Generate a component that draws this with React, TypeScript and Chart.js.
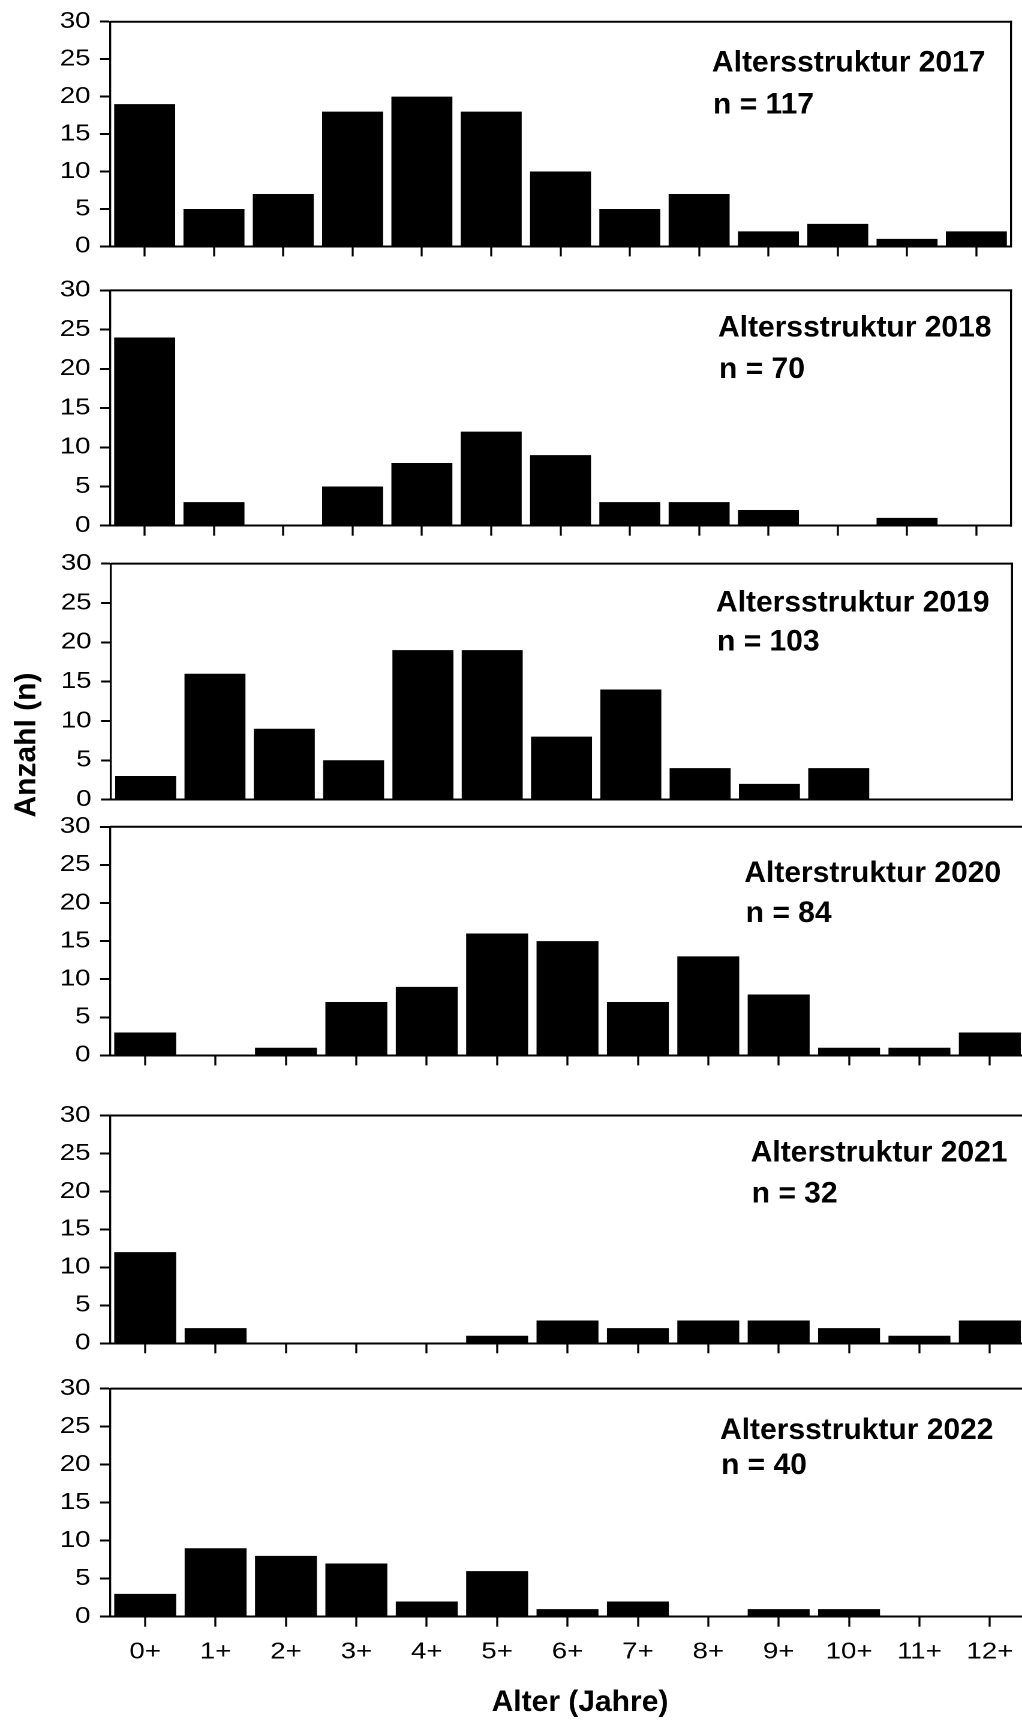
import React, { useEffect, useRef } from 'react';
import { Chart, registerables } from 'chart.js';

Chart.register(...registerables);

// ---------- data ----------
const ageLabels = ['0+', '1+', '2+', '3+', '4+', '5+', '6+', '7+', '8+', '9+', '10+', '11+', '12+'];
const counts2017 = [19, 5, 7, 18, 20, 18, 10, 5, 7, 2, 3, 1, 2];
const counts2018 = [24, 3, 0, 5, 8, 12, 9, 3, 3, 2, 0, 1, 0];
const counts2019 = [3, 16, 9, 5, 19, 19, 8, 14, 4, 2, 4, 0, 0];
const counts2020 = [3, 0, 1, 7, 9, 16, 15, 7, 13, 8, 1, 1, 3];
const counts2021 = [12, 2, 0, 0, 0, 1, 3, 2, 3, 3, 2, 1, 3];
const counts2022 = [3, 9, 8, 7, 2, 6, 1, 2, 0, 1, 1, 0, 0];
const panelTitles = [
  'Altersstruktur 2017',
  'Altersstruktur 2018',
  'Altersstruktur 2019',
  'Alterstruktur 2020',
  'Alterstruktur 2021',
  'Altersstruktur 2022',
];
const panelN = ['n = 117', 'n = 70', 'n = 103', 'n = 84', 'n = 32', 'n = 40'];
const yTicks = [0, 5, 10, 15, 20, 25, 30];
const yAxisTitle = 'Anzahl (n)';
const xAxisTitle = 'Alter (Jahre)';

// ---------- layout (display pixels) ----------
const FAMILY = "'Liberation Sans', Arial, Helvetica, sans-serif";
const DW = 1040; // canvas display width (clipped at 1022)
const SX_TARGET = 1.2; // horizontal stretch of tick lettering
const RW = Math.round(DW / SX_TARGET);
const SX = DW / RW;

type Panel = {
  data: number[];
  title: string;
  n: string;
  cy: number;
  h: number;
  L: number;
  T: number;
  R: number;
  B: number;
  tx: number;
  ty: number;
  nx: number;
  ny: number;
  xTicks: boolean;
  xLabels: boolean;
  yTitle?: { x: number; y: number };
  xTitle?: { x: number; y: number };
};

const panels: Panel[] = [
  { data: counts2017, title: panelTitles[0], n: panelN[0], cy: 0, h: 275, L: 110, T: 20.7, R: 1011, B: 246.4, tx: 712, ty: 71.4, nx: 713, ny: 113.6, xTicks: true, xLabels: false },
  { data: counts2018, title: panelTitles[1], n: panelN[1], cy: 260, h: 295, L: 110, T: 290.4, R: 1011, B: 525.7, tx: 718, ty: 336.4, nx: 719, ny: 377.9, xTicks: true, xLabels: false },
  { data: counts2019, title: panelTitles[2], n: panelN[2], cy: 535, h: 295, L: 111, T: 563.6, R: 1012, B: 799.6, tx: 716, ty: 611.4, nx: 717, ny: 650.7, xTicks: false, xLabels: false, yTitle: { x: 35.3, y: 745 } },
  { data: counts2020, title: panelTitles[3], n: panelN[3], cy: 795, h: 290, L: 110, T: 826.8, R: 1025, B: 1055.4, tx: 744.3, ty: 882.1, nx: 745.7, ny: 922.1, xTicks: true, xLabels: false },
  { data: counts2021, title: panelTitles[4], n: panelN[4], cy: 1085, h: 290, L: 110, T: 1115.5, R: 1025, B: 1343.3, tx: 750.7, ty: 1161.6, nx: 751.7, ny: 1202.4, xTicks: true, xLabels: false },
  { data: counts2022, title: panelTitles[5], n: panelN[5], cy: 1360, h: 360, L: 110, T: 1388.6, R: 1025, B: 1616.7, tx: 720, ty: 1439, nx: 721, ny: 1473.8, xTicks: true, xLabels: true, xTitle: { x: 580, y: 1711 } },
];

const framePlugin = {
  id: 'frame',
  afterDraw(chart: any, _args: any, opts: any) {
    const p: Panel = opts.panel;
    const { ctx, chartArea } = chart;
    const yScale = chart.scales.y;
    const top = yScale.getPixelForValue(30);
    ctx.save();
    ctx.strokeStyle = '#000';
    // top border
    ctx.lineWidth = 2;
    ctx.beginPath();
    ctx.moveTo(chartArea.left, top);
    ctx.lineTo(chartArea.right + 1 / SX, top);
    ctx.stroke();
    // right border
    ctx.lineWidth = 2 / SX;
    ctx.beginPath();
    ctx.moveTo(chartArea.right, top - 1);
    ctx.lineTo(chartArea.right, chartArea.bottom + 1);
    ctx.stroke();
    ctx.restore();

    // texts, undo the horizontal stretch
    ctx.save();
    ctx.scale(1 / SX, 1);
    ctx.fillStyle = '#000';
    ctx.font = `bold 30px ${FAMILY}`;
    ctx.textAlign = 'left';
    ctx.textBaseline = 'alphabetic';
    ctx.fillText(p.title, p.tx, p.ty - p.cy);
    ctx.fillText(p.n, p.nx, p.ny - p.cy);
    if (p.xTitle) {
      ctx.textAlign = 'center';
      ctx.fillText(xAxisTitle, p.xTitle.x, p.xTitle.y - p.cy);
    }
    if (p.yTitle) {
      ctx.save();
      ctx.translate(p.yTitle.x, p.yTitle.y - p.cy);
      ctx.rotate(-Math.PI / 2);
      ctx.textAlign = 'center';
      ctx.textBaseline = 'alphabetic';
      ctx.fillText(yAxisTitle, 0, 0);
      ctx.restore();
    }
    ctx.restore();
  },
};

function makeConfig(p: Panel): any {
  const yWidth = p.L / SX;
  const xHeight = p.h - (p.B - p.cy);
  return {
    type: 'bar',
    data: {
      labels: ageLabels,
      datasets: [
        {
          data: p.data,
          backgroundColor: '#000',
          borderWidth: 0,
          barPercentage: 0.88,
          categoryPercentage: 1.0,
        },
      ],
    },
    plugins: [framePlugin],
    options: {
      responsive: false,
      maintainAspectRatio: false,
      animation: false,
      devicePixelRatio: 2,
      events: [],
      layout: {
        padding: { left: 0, top: p.T - p.cy, right: RW - p.R / SX, bottom: 0 },
      },
      plugins: {
        legend: { display: false },
        tooltip: { enabled: false },
        title: { display: false },
        frame: { panel: p },
      },
      scales: {
        x: {
          type: 'category',
          offset: true,
          grid: {
            display: p.xTicks,
            drawOnChartArea: false,
            drawTicks: true,
            tickLength: 10,
            tickWidth: 2 / SX,
            tickColor: '#000',
            offset: false,
          },
          border: { display: true, color: '#000', width: 2 },
          ticks: {
            display: p.xLabels,
            font: { family: FAMILY, size: 23 },
            color: '#000',
            padding: 11.5,
            maxRotation: 0,
            minRotation: 0,
            autoSkip: false,
          },
          afterFit: (s: any) => {
            s.height = xHeight;
          },
        },
        y: {
          type: 'linear',
          min: 0,
          max: 30,
          grid: {
            display: true,
            drawOnChartArea: false,
            drawTicks: true,
            tickLength: 10 / SX,
            tickWidth: 2,
            tickColor: '#000',
          },
          border: { display: true, color: '#000', width: 2 / SX },
          ticks: {
            font: { family: FAMILY, size: 23 },
            color: '#000',
            padding: 9.5 / SX,
          },
          afterBuildTicks: (s: any) => {
            s.ticks = yTicks.map((v) => ({ value: v }));
          },
          afterFit: (s: any) => {
            s.width = yWidth;
          },
        },
      },
    },
  };
}

export default function App() {
  const refs = useRef<(HTMLCanvasElement | null)[]>([]);

  useEffect(() => {
    const charts: Chart[] = [];
    panels.forEach((p, i) => {
      const c = refs.current[i];
      if (c) charts.push(new Chart(c, makeConfig(p)));
    });
    return () => {
      charts.forEach((ch) => ch.destroy());
    };
  }, []);

  return (
    <div
      style={{
        position: 'absolute',
        left: 0,
        top: 0,
        width: 1022,
        height: 1720,
        overflow: 'hidden',
        background: '#fff',
      }}
    >
      {panels.map((p, i) => (
        <canvas
          key={i}
          ref={(el) => {
            refs.current[i] = el;
          }}
          width={RW}
          height={p.h}
          style={{ position: 'absolute', left: 0, top: p.cy, width: DW, height: p.h }}
        />
      ))}
    </div>
  );
}
